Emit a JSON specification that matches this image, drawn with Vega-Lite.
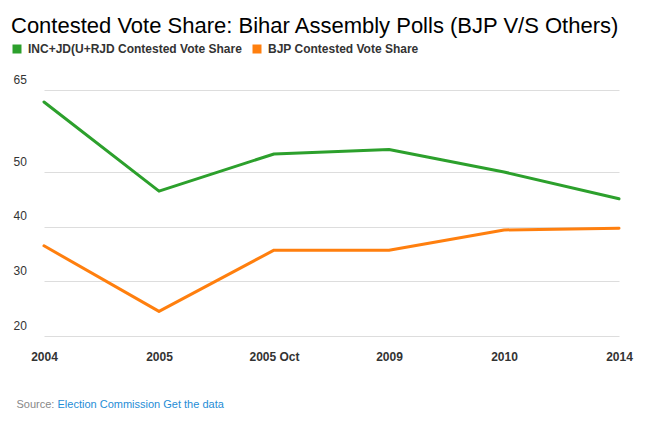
{
  "$schema": "https://vega.github.io/schema/vega-lite/v6.json",
  "width": 608,
  "height": 246,
  "autosize": {"type": "none"},
  "padding": {"left": 11, "top": 90, "right": 27, "bottom": 88},
  "background": "#ffffff",
  "title": {
    "text": "Contested Vote Share: Bihar Assembly Polls (BJP V/S Others)",
    "anchor": "start",
    "frame": "group",
    "font": "Liberation Sans",
    "fontSize": 22,
    "fontWeight": "normal",
    "color": "#000000",
    "offset": 5
  },
  "config": {
    "view": {"stroke": null},
    "font": "Liberation Sans"
  },
  "data": {
    "values": [
      {"year": "2004", "series": "INC+JD(U+RJD Contested Vote Share", "share": 62.8},
      {"year": "2005", "series": "INC+JD(U+RJD Contested Vote Share", "share": 46.5},
      {"year": "2005 Oct", "series": "INC+JD(U+RJD Contested Vote Share", "share": 53.3},
      {"year": "2009", "series": "INC+JD(U+RJD Contested Vote Share", "share": 54.1},
      {"year": "2010", "series": "INC+JD(U+RJD Contested Vote Share", "share": 50.0},
      {"year": "2014", "series": "INC+JD(U+RJD Contested Vote Share", "share": 45.1},
      {"year": "2004", "series": "BJP Contested Vote Share", "share": 36.5},
      {"year": "2005", "series": "BJP Contested Vote Share", "share": 24.5},
      {"year": "2005 Oct", "series": "BJP Contested Vote Share", "share": 35.7},
      {"year": "2009", "series": "BJP Contested Vote Share", "share": 35.7},
      {"year": "2010", "series": "BJP Contested Vote Share", "share": 39.4},
      {"year": "2014", "series": "BJP Contested Vote Share", "share": 39.7}
    ]
  },
  "mark": {"type": "line", "strokeWidth": 3, "strokeCap": "round", "strokeJoin": "round"},
  "encoding": {
    "x": {
      "field": "year",
      "type": "ordinal",
      "sort": null,
      "scale": {"type": "point", "range": [33, 608], "padding": 0},
      "axis": {
        "title": "Election Commission Get the data",
        "titleFont": "Liberation Sans",
        "titleFontSize": 11,
        "titleFontWeight": "normal",
        "titleColor": "#1f8dd6",
        "titleAlign": "left",
        "titleAnchor": null,
        "titleBaseline": "alphabetic",
        "titleX": 46,
        "titleY": 71,
        "labelAngle": 0,
        "labelFont": "Liberation Sans",
        "labelFontSize": 12,
        "labelFontWeight": "bold",
        "labelColor": "#333333",
        "labelPadding": 15,
        "domain": false,
        "ticks": false,
        "tickSize": 0,
        "grid": false
      }
    },
    "y": {
      "field": "share",
      "type": "quantitative",
      "scale": {"domain": [20, 65], "nice": false, "zero": false},
      "axis": {
        "values": [20, 30, 40, 50, 65],
        "title": "Source:",
        "titleFont": "Liberation Sans",
        "titleFontSize": 11,
        "titleFontWeight": "normal",
        "titleColor": "#888888",
        "titleAngle": 0,
        "titleAlign": "left",
        "titleAnchor": null,
        "titleBaseline": "alphabetic",
        "titleX": 5,
        "titleY": 317,
        "labelAlign": "left",
        "labelBaseline": "middle",
        "labelOffset": -11,
        "labelPadding": -2,
        "labelFont": "Liberation Sans",
        "labelFontSize": 12,
        "labelColor": "#333333",
        "domain": false,
        "ticks": false,
        "tickSize": 0,
        "grid": true,
        "gridColor": "#dddddd",
        "gridWidth": 1
      }
    },
    "color": {
      "field": "series",
      "type": "nominal",
      "sort": ["INC+JD(U+RJD Contested Vote Share", "BJP Contested Vote Share"],
      "scale": {
        "domain": ["INC+JD(U+RJD Contested Vote Share", "BJP Contested Vote Share"],
        "range": ["#2ca02c", "#ff7f0e"]
      },
      "legend": {
        "title": null,
        "orient": "none",
        "legendX": 0,
        "legendY": -47,
        "direction": "horizontal",
        "symbolType": "square",
        "symbolSize": 81,
        "symbolOffset": 0,
        "labelFont": "Liberation Sans",
        "labelFontSize": 12,
        "labelFontWeight": "bold",
        "labelColor": "#333333",
        "labelLimit": 0,
        "labelOffset": 5,
        "columnPadding": 9,
        "padding": 0,
        "encode": {
          "symbols": {
            "update": {
              "fill": {"scale": "color", "field": "value"},
              "stroke": {"value": "transparent"},
              "strokeWidth": {"value": 0}
            }
          }
        }
      }
    }
  }
}
